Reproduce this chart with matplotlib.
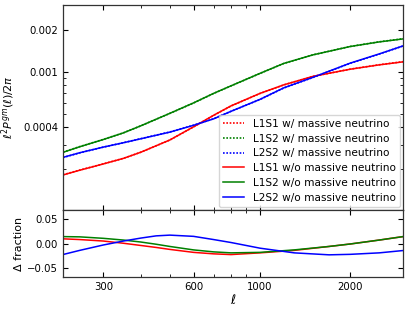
import matplotlib
matplotlib.use("Agg")
import matplotlib.pyplot as plt
from matplotlib.ticker import FixedLocator, FixedFormatter, LogLocator, NullFormatter

# multipoles for the top panel
ell = [220, 250, 300, 350, 400, 500, 600, 700, 800, 1000, 1200, 1500, 2000, 2500, 3000]

# w/o massive neutrino (solid)
l1s1_wo = [0.000182, 0.0001967, 0.0002184, 0.0002394, 0.000265, 0.0003245, 0.0004034,
           0.000488, 0.00057, 0.000701, 0.000807, 0.000928, 0.001045, 0.001123, 0.00118]
l1s2_wo = [0.0002645, 0.00029, 0.000327, 0.000365, 0.00041, 0.000504, 0.000599,
           0.000701, 0.000794, 0.000976, 0.00115, 0.001324, 0.001521, 0.001641, 0.001724]
l2s2_wo = [0.0002434, 0.0002627, 0.0002885, 0.00031, 0.000331, 0.0003695, 0.0004135,
           0.00046, 0.000521, 0.000635, 0.000768, 0.000913, 0.001156, 0.001346, 0.001536]

# w/ massive neutrino (dotted)
l1s1_w = [0.0001826, 0.0001972, 0.0002187, 0.0002395, 0.000265, 0.0003242, 0.0004027,
          0.000487, 0.000569, 0.0007, 0.000806, 0.000928, 0.001046, 0.001125, 0.001184]
l1s2_w = [0.0002652, 0.0002907, 0.0003275, 0.0003652, 0.00041, 0.0005035, 0.000598,
          0.0007, 0.000793, 0.000975, 0.001149, 0.001324, 0.001522, 0.001644, 0.001729]
l2s2_w = [0.0002425, 0.0002622, 0.0002884, 0.0003101, 0.0003315, 0.0003702, 0.0004142,
          0.000461, 0.000521, 0.000634, 0.000766, 0.000911, 0.001153, 0.001343, 0.001533]

# multipoles and fractional differences for the bottom panel
ell_d = [220, 250, 300, 350, 400, 450, 500, 600, 700, 800, 1000, 1300, 1700, 2000, 2500, 3000]
d_l1s1 = [0.0095, 0.008, 0.005, 0.0005, -0.004, -0.008, -0.012, -0.018, -0.021, -0.0225,
          -0.019, -0.014, -0.006, -0.001, 0.007, 0.014]
d_l1s2 = [0.014, 0.0135, 0.0105, 0.007, 0.003, -0.0015, -0.006, -0.013, -0.017, -0.019,
          -0.018, -0.013, -0.006, -0.001, 0.007, 0.014]
d_l2s2 = [-0.0224, -0.014, -0.003, 0.005, 0.011, 0.0155, 0.017, 0.0145, 0.008, 0.002,
          -0.0095, -0.019, -0.023, -0.022, -0.019, -0.0143]

xticks = [300, 600, 1000, 2000]
xticklabels = ["300", "600", "1000", "2000"]
yticks_top = [0.0004, 0.001, 0.002]
yticklabels_top = ["0.0004", "0.001", "0.002"]
yticks_bot = [-0.05, 0.0, 0.05]
yticklabels_bot = ["\u22120.05", "0.00", "0.05"]

labels_w = ["L1S1 w/ massive neutrino", "L1S2 w/ massive neutrino", "L2S2 w/ massive neutrino"]
labels_wo = ["L1S1 w/o massive neutrino", "L1S2 w/o massive neutrino", "L2S2 w/o massive neutrino"]
colors = ["red", "green", "blue"]

fs = 7.3
fig = plt.figure(figsize=(4.09, 3.12), dpi=100)
ax1 = fig.add_axes([63/409, 1-210/312, 340/409, 205/312])
ax2 = fig.add_axes([63/409, 1-277/312, 340/409, 67/312], sharex=ax1)

for vals, c, lab in zip([l1s1_w, l1s2_w, l2s2_w], colors, labels_w):
    ax1.plot(ell, vals, linestyle=(0, (1, 1)), color=c, lw=1.2, label=lab)
for vals, c, lab in zip([l1s1_wo, l1s2_wo, l2s2_wo], colors, labels_wo):
    ax1.plot(ell, vals, linestyle='-', color=c, lw=1.1, label=lab)

for vals, c in zip([d_l1s1, d_l1s2, d_l2s2], colors):
    ax2.plot(ell_d, vals, color=c, lw=1.1)

ax1.set_xscale('log')
ax1.set_yscale('log')
ax1.set_xlim(220, 3000)
ax1.set_ylim(0.000102, 0.00302)
ax1.yaxis.set_major_locator(FixedLocator(yticks_top))
ax1.yaxis.set_major_formatter(FixedFormatter(yticklabels_top))
ax1.yaxis.set_minor_locator(LogLocator(base=10, subs=[2, 3, 4, 5, 6, 7, 8, 9]))
ax1.yaxis.set_minor_formatter(NullFormatter())
ax1.set_ylabel(r"$\ell^2P^{gm}(\ell)/2\pi$", fontsize=8, labelpad=4)

ax2.set_ylim(-0.068, 0.068)
ax2.yaxis.set_major_locator(FixedLocator(yticks_bot))
ax2.yaxis.set_major_formatter(FixedFormatter(yticklabels_bot))
ax2.xaxis.set_major_locator(FixedLocator(xticks))
ax2.xaxis.set_major_formatter(FixedFormatter(xticklabels))
ax2.xaxis.set_minor_locator(LogLocator(base=10, subs=[2, 3, 4, 5, 6, 7, 8, 9]))
ax2.xaxis.set_minor_formatter(NullFormatter())
ax2.set_ylabel("\u0394 fraction", fontsize=8, labelpad=2)
ax2.set_xlabel(r"$\ell$", fontsize=9, labelpad=1)

plt.setp(ax1.get_xticklabels(), visible=False)

for ax in (ax1, ax2):
    ax.tick_params(which='both', direction='in', top=True, right=True, labelsize=fs)
    ax.tick_params(which='major', length=3.5, width=0.8)
    ax.tick_params(which='minor', length=2, width=0.6)
    for s in ax.spines.values():
        s.set_color('#333333')
        s.set_linewidth(0.9)

ax1.legend(loc='lower right', fontsize=7.6, frameon=True, borderaxespad=0.3,
           handlelength=2.0, labelspacing=0.45, borderpad=0.4, handletextpad=0.8)

fig.savefig("out.png", dpi=100)
